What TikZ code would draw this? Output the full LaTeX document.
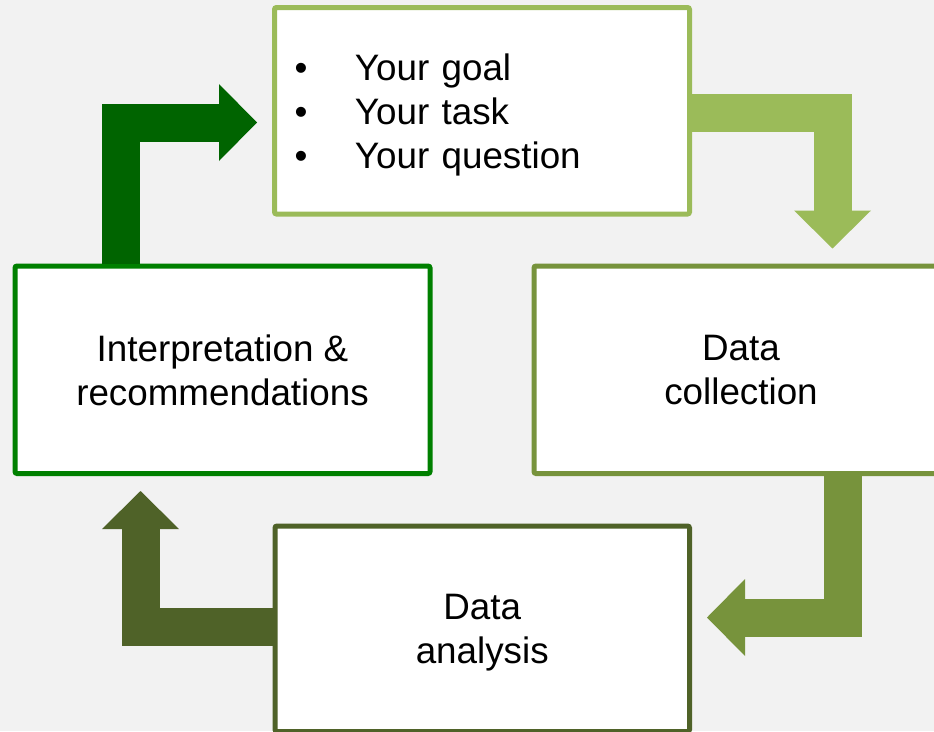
\documentclass[tikz,border=0pt]{standalone}
\usepackage{fontspec}
\setmainfont{Liberation Sans}
\usetikzlibrary{arrows.meta}
\usetikzlibrary{positioning}
\definecolor{bgray}{HTML}{F2F2F2}
\definecolor{lgreen}{HTML}{9BBB59}
\definecolor{ogreen}{HTML}{77933C}
\definecolor{dolive}{HTML}{4F6228}
\definecolor{mgreen}{HTML}{008000}
\definecolor{dgreen}{HTML}{006400}
\tikzset{
    stagebox/.style = {rectangle, rounded corners=2pt, line width=5pt, fill=white, align=center, text depth=0pt,
        font=\fontsize{36.8}{44}\selectfont, minimum width=415pt, minimum height=207.5pt, inner sep=0pt},
    edgeflow/.style = {line width=38pt, -{Triangle[width=77pt,length=38pt,line width=0pt 0 0]}, shorten >=15pt},
}

\begin{document}
\begin{tikzpicture}[x=1pt,y=-1pt]
  \fill[bgray] (0,0) rectangle (934,731);
  \clip (0,0) rectangle (934,731);

  \node[stagebox, draw=lgreen, minimum height=206.5pt, text width=375pt, align=left, text depth=88pt] (goal) at (482,110.75)
    {\makebox[60.5pt][l]{\textbullet}Your goal\\\makebox[60.5pt][l]{\textbullet}Your task\\\makebox[60.5pt][l]{\textbullet}Your question};
  \node[stagebox, draw=ogreen, minimum width=414pt] (collect) at (741,369.75) {Data\\collection};
  \node[stagebox, draw=dolive, minimum width=414.5pt, minimum height=205.5pt] (analysis) at (482.25,628.75) {Data\\analysis};
  \node[stagebox, draw=mgreen] (interp) at (222.5,369.75) {Interpretation \&\\recommendations};

  \draw[edgeflow, dgreen] ([xshift=-101.3pt]interp.north) |- ([yshift=-11.75pt]goal.west);
  \draw[edgeflow, lgreen] ([yshift=-1.75pt]goal.east) -| ([xshift=91.5pt]collect.north);
  \draw[edgeflow, ogreen] ([xshift=101.5pt]collect.south) |- ([yshift=11.25pt]analysis.east);
  \draw[edgeflow, dolive] ([yshift=2.25pt]analysis.west) -| ([xshift=-82pt]interp.south);
\end{tikzpicture}
\end{document}
